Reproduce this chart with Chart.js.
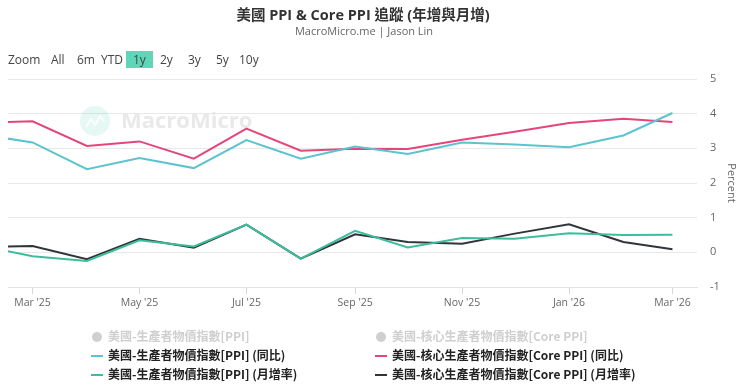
<!DOCTYPE html>
<html>
<head>
<meta charset="utf-8">
<script src="https://cdn.jsdelivr.net/npm/chart.js@4"></script>
<style>
  body { margin: 0; background: #fff; font-family: "Open Sans", "Noto Sans CJK TC", sans-serif; }
  #wrap { position: relative; width: 740px; height: 385px; overflow: hidden; }
  #chart { position: absolute; left: 0; top: 0; }
  .title { position: absolute; left: 0; width: 726px; top: 3px; text-align: center; font: bold 14.5px "Open Sans", "Noto Sans CJK TC"; color: #333; }
  .sub { position: absolute; left: 0; width: 728px; top: 23px; text-align: center; font: 11px "Open Sans", "Noto Sans CJK TC"; color: #666; }
  .btn { position: absolute; top: 51px; font: 12px "Open Sans"; color: #444; line-height: 17px; }
  .btn.on { background: #5fd6b8; padding: 0 7px; }
  .leg { position: absolute; font: bold 12px "Noto Sans CJK TC"; color: #222; white-space: nowrap; line-height: 16px; }
  .leg.off { color: #cfcfcf; }
  .mark { position: absolute; }
</style>
</head>
<body>
<div id="wrap">
  <canvas id="chart" width="740" height="385"></canvas>
  <div class="title">美國 PPI &amp; Core PPI 追蹤 (年增與月增)</div>
  <div class="sub">MacroMicro.me | Jason Lin</div>
  <div id="buttons"></div>
  <div id="legend"></div>
</div>
<script>
const months = ['2025-02', '2025-03', '2025-04', '2025-05', '2025-06', '2025-07', '2025-08',
                '2025-09', '2025-10', '2025-11', '2025-12', '2026-01', '2026-02', '2026-03'];
const ppiYoY     = [3.39, 3.17, 2.40, 2.72, 2.43, 3.24, 2.70, 3.05, 2.84, 3.17, 3.11, 3.03, 3.37, 4.02];
const corePpiYoY = [3.74, 3.78, 3.07, 3.20, 2.70, 3.57, 2.93, 2.99, 2.98, 3.25, 3.48, 3.73, 3.85, 3.76];
const ppiMoM     = [0.17, -0.11, -0.25, 0.35, 0.17, 0.80, -0.18, 0.62, 0.14, 0.41, 0.39, 0.55, 0.50, 0.51];
const corePpiMoM = [0.16, 0.18, -0.20, 0.39, 0.13, 0.80, -0.18, 0.52, 0.30, 0.25, 0.54, 0.81, 0.30, 0.09];

const tickMonths = ['2025-03', '2025-05', '2025-07', '2025-09', '2025-11', '2026-01', '2026-03'];
const tickLabels = ["Mar '25", "May '25", "Jul '25", "Sep '25", "Nov '25", "Jan '26", "Mar '26"];
const rangeStart = '2025-02-15';
const rangeEnd = '2026-03-15';

const seriesNames = [
    '美國-生產者物價指數[PPI] (同比)',
    '美國-核心生產者物價指數[Core PPI] (同比)',
    '美國-生產者物價指數[PPI] (月增率)',
    '美國-核心生產者物價指數[Core PPI] (月增率)'
];
const hiddenNames = ['美國-生產者物價指數[PPI]', '美國-核心生產者物價指數[Core PPI]'];
const seriesColors = ['#5cc3cf', '#e4467c', '#3dbd9c', '#30353b'];
const rangeButtons = ['Zoom', 'All', '6m', 'YTD', '1y', '2y', '3y', '5y', '10y'];

// days since epoch, so month lengths come out right on a linear axis
function toDay(s) {
    const p = s.split('-').map(Number);
    return Date.UTC(p[0], p[1] - 1, p[2] || 1) / 86400000;
}
const xs = months.map(toDay);
const pts = vals => vals.map((v, i) => ({ x: xs[i], y: v }));

// range selector buttons
const btnX = [8, 51, 77, 101, 126, 160, 188, 216, 239];
document.getElementById('buttons').innerHTML = rangeButtons.map((b, i) =>
    `<span class="btn${b === '1y' ? ' on' : ''}" style="left:${btnX[i]}px">${b}</span>`).join('');

// legend, two columns like the original
const legCols = [91, 375];
let legHtml = '';
hiddenNames.forEach((n, i) => {
    legHtml += `<span class="mark" style="left:${legCols[i] + 1}px;top:332px;width:10px;height:10px;border-radius:5px;background:#cfcfcf"></span>`;
    legHtml += `<span class="leg off" style="left:${legCols[i] + 17}px;top:328px">${n}</span>`;
});
[[0, 0, 356], [1, 1, 356], [2, 0, 375], [3, 1, 375]].forEach(([s, c, y]) => {
    legHtml += `<span class="mark" style="left:${legCols[c]}px;top:${y - 1}px;width:12px;height:2px;background:${seriesColors[s]}"></span>`;
    legHtml += `<span class="leg" style="left:${legCols[c] + 17}px;top:${y - 9}px">${seriesNames[s]}</span>`;
});
document.getElementById('legend').innerHTML = legHtml;

const watermark = {
    id: 'watermark',
    beforeDatasetsDraw(chart) {
        const ctx = chart.ctx;
        ctx.save();
        ctx.fillStyle = 'rgba(95, 214, 184, 0.16)';
        ctx.beginPath();
        ctx.arc(95, 121, 15, 0, Math.PI * 2);
        ctx.fill();
        ctx.strokeStyle = 'rgba(255,255,255,0.9)';
        ctx.lineWidth = 2;
        ctx.beginPath();
        ctx.moveTo(86, 127); ctx.lineTo(91, 119); ctx.lineTo(95, 125); ctx.lineTo(100, 116); ctx.lineTo(104, 121);
        ctx.stroke();
        ctx.fillStyle = '#e9e9e9';
        ctx.font = 'bold 22px "Open Sans"';
        ctx.textBaseline = 'middle';
        ctx.fillText('MacroMicro', 121, 122);
        ctx.restore();
    }
};

const mk = (i, data) => ({
    label: seriesNames[i],
    data: pts(data),
    borderColor: seriesColors[i],
    backgroundColor: seriesColors[i],
    borderWidth: 2,
    pointRadius: 0,
    tension: 0,
    fill: false
});

new Chart(document.getElementById('chart'), {
    type: 'line',
    data: {
        datasets: [
            mk(0, ppiYoY),
            mk(1, corePpiYoY),
            mk(2, ppiMoM),
            mk(3, corePpiMoM)
        ]
    },
    options: {
        responsive: false,
        animation: false,
        layout: { padding: { left: 8, top: 79, right: 0, bottom: 68 } },
        plugins: { legend: { display: false }, tooltip: { enabled: false } },
        scales: {
            x: {
                type: 'linear',
                min: toDay(rangeStart),
                max: toDay(rangeEnd),
                afterBuildTicks: scale => {
                    scale.ticks = tickMonths.map(m => ({ value: toDay(m) }));
                },
                afterFit: scale => { scale.height = 30; },
                ticks: {
                    autoSkip: false,
                    maxRotation: 0,
                    padding: 3,
                    color: '#666',
                    font: { family: 'Open Sans', size: 10.5 },
                    callback: (v, i) => tickLabels[i]
                },
                grid: { drawOnChartArea: false, drawTicks: true, tickLength: 7, color: '#d8d8d8' },
                border: { color: '#e3e3e3' }
            },
            y: {
                position: 'right',
                min: -1,
                max: 5,
                afterFit: scale => { scale.width = 43; },
                ticks: {
                    stepSize: 1,
                    padding: 13,
                    color: '#666',
                    font: { family: 'Open Sans', size: 11 }
                },
                grid: { color: '#e8e8e8', drawTicks: false },
                border: { display: false },
                title: {
                    display: true,
                    text: 'Percent',
                    color: '#666',
                    font: { family: 'Open Sans', size: 11 },
                    padding: { top: 2, bottom: 0 }
                }
            }
        }
    },
    plugins: [watermark]
});
</script>
</body>
</html>
